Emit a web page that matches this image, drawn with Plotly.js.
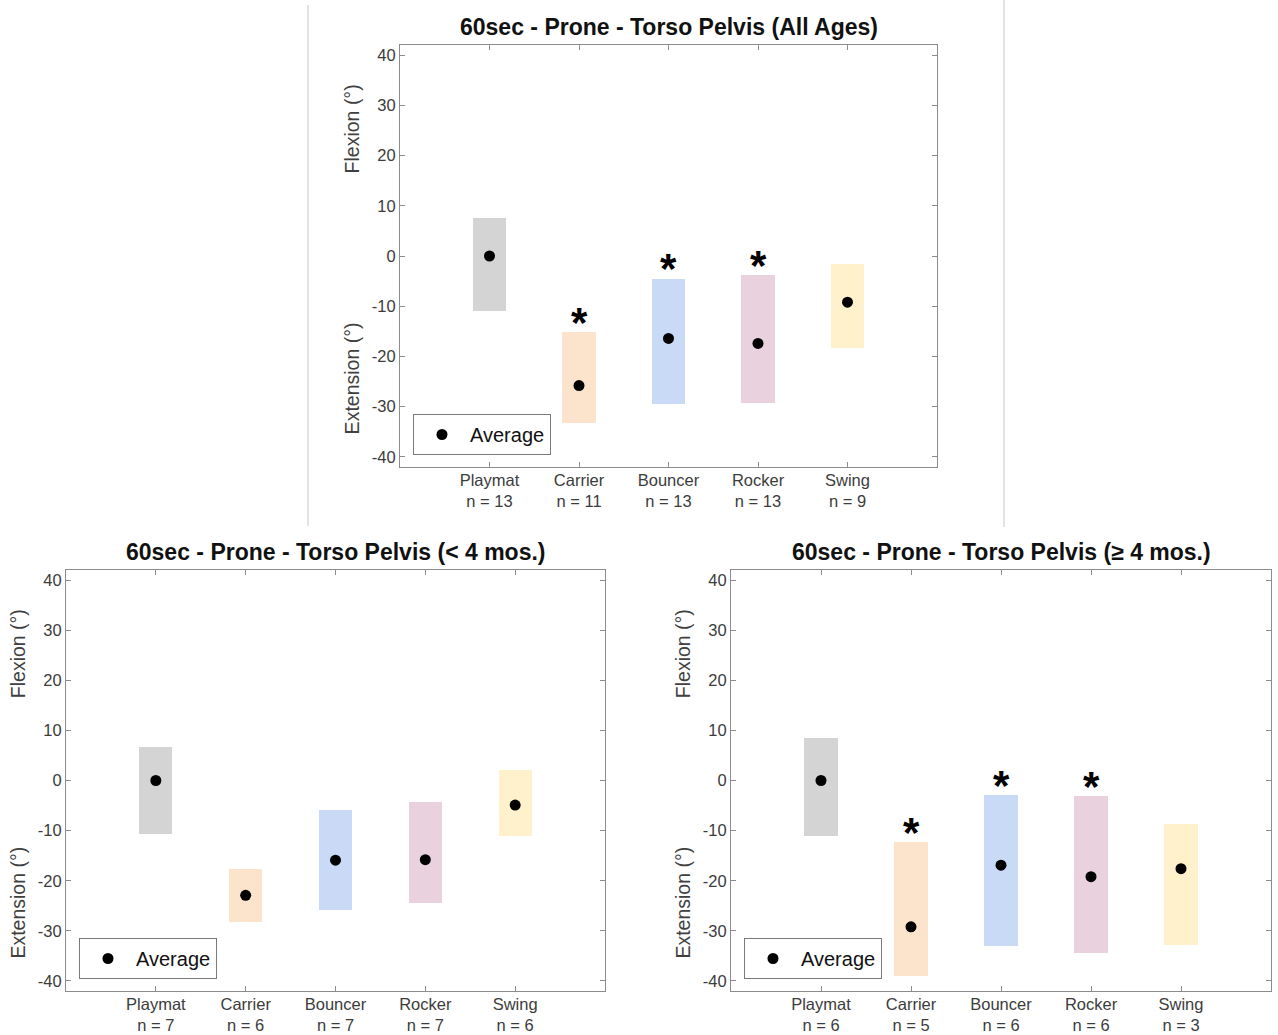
<!DOCTYPE html>
<html>
<head>
<meta charset="utf-8">
<script src="https://cdn.plot.ly/plotly-3.0.1.min.js"></script>
<style>html,body{margin:0;padding:0;background:#fff;}#chart{width:1278px;height:1035px;}</style>
</head>
<body>
<div id="chart"></div>
<script>
// ---- data ----
const categories = ["Playmat", "Carrier", "Bouncer", "Rocker", "Swing"];
const barColors = ["#d4d4d4", "#fbe4cb", "#c9daf6", "#e9d1dd", "#fef1cb"];

const titleAll = "60sec - Prone - Torso Pelvis (All Ages)";
const nAll = [13, 11, 13, 13, 9];
const topAll = [7.5, -15.2, -4.5, -3.8, -1.5];
const bottomAll = [-10.9, -33.3, -29.4, -29.2, -18.4];
const meanAll = [0, -25.8, -16.4, -17.4, -9.2];
const sigAll = [false, true, true, true, false];

const titleYoung = "60sec - Prone - Torso Pelvis (< 4 mos.)";
const nYoung = [7, 6, 7, 7, 6];
const topYoung = [6.6, -17.7, -5.9, -4.2, 2.1];
const bottomYoung = [-10.6, -28.2, -25.9, -24.4, -11.0];
const meanYoung = [0, -22.9, -15.9, -15.8, -4.9];
const sigYoung = [false, false, false, false, false];

const titleOld = "60sec - Prone - Torso Pelvis (\u2265 4 mos.)";
const nOld = [6, 5, 6, 6, 3];
const topOld = [8.5, -12.3, -2.9, -3.1, -8.6];
const bottomOld = [-11.0, -39.0, -33.0, -34.4, -32.9];
const meanOld = [0, -29.2, -16.9, -19.2, -17.6];
const sigOld = [false, true, true, true, false];

const yTicks = [-40, -30, -20, -10, 0, 10, 20, 30, 40];
const yTickText = ["-40", "-30", "-20", "-10", "0", "10", "20", "30", "40"];

// ---- build ----
const FONT = "Liberation Sans, Arial, sans-serif";
const panels = [
  {title: titleAll, n: nAll, top: topAll, bottom: bottomAll, mean: meanAll, sig: sigAll,
   xd: [400/1278, 937/1278], yd: [(1035-467)/1035, (1035-45)/1035], legend: "legend"},
  {title: titleYoung, n: nYoung, top: topYoung, bottom: bottomYoung, mean: meanYoung, sig: sigYoung,
   xd: [66/1278, 605/1278], yd: [(1035-991)/1035, (1035-570)/1035], legend: "legend2"},
  {title: titleOld, n: nOld, top: topOld, bottom: bottomOld, mean: meanOld, sig: sigOld,
   xd: [731/1278, 1271/1278], yd: [(1035-991)/1035, (1035-570)/1035], legend: "legend3"}
];

const xs = categories.map((c, i) => i + 1);
const traces = [];
const layout = {
  width: 1278, height: 1035,
  margin: {l: 0, r: 0, t: 0, b: 0},
  paper_bgcolor: "#fff", plot_bgcolor: "#fff",
  font: {family: FONT, color: "#404040"},
  annotations: [], shapes: [],
  bargap: 0
};

panels.forEach((p, k) => {
  const sfx = k === 0 ? "" : String(k + 1);
  const xa = "x" + sfx, ya = "y" + sfx;
  traces.push({
    type: "bar", x: xs, y: p.top.map((t, i) => t - p.bottom[i]), base: p.bottom,
    width: 0.37, marker: {color: barColors, line: {width: 0}},
    xaxis: xa, yaxis: ya, showlegend: false, hoverinfo: "skip"
  });
  traces.push({
    type: "scatter", mode: "markers", x: xs, y: p.mean, name: "Average",
    marker: {color: "#000", size: 11}, xaxis: xa, yaxis: ya,
    showlegend: true, legend: p.legend
  });
  // significance asterisks, anchored on the bar tops
  p.sig.forEach((s, i) => {
    if (!s) return;
    layout.annotations.push({
      xref: xa, yref: ya, x: xs[i], y: p.top[i], text: "<b>*</b>",
      showarrow: false, xanchor: "center", yanchor: "middle", yshift: 10,
      font: {size: 42, color: "#000", family: FONT}
    });
  });
  const axCommon = {
    showline: true, linecolor: "#8c8c8c", linewidth: 1, mirror: "ticks",
    ticks: "inside", ticklen: 5, tickcolor: "#8c8c8c", showgrid: false, zeroline: false,
    tickfont: {size: 16.5, color: "#3c3c3c", family: FONT}
  };
  layout["xaxis" + sfx] = Object.assign({}, axCommon, {
    domain: p.xd, anchor: ya, range: [0, 6], ticklabelstandoff: -2,
    tickvals: xs, ticktext: categories.map((c, i) => c + "<br>n = " + p.n[i])
  });
  layout["yaxis" + sfx] = Object.assign({}, axCommon, {
    domain: p.yd, anchor: xa, range: [-42, 42], tickvals: yTicks, ticktext: yTickText
  });
  layout[p.legend] = {
    x: p.xd[0] + 13/1278, y: p.yd[0] + 12/1035, xanchor: "left", yanchor: "bottom",
    xref: "paper", yref: "paper",
    bgcolor: "#fff", bordercolor: "#7a7a7a", borderwidth: 1,
    font: {size: 20, color: "#111", family: FONT}, itemwidth: 46
  };
  // title
  layout.annotations.push({
    xref: "paper", yref: "paper", x: (p.xd[0] + p.xd[1]) / 2, y: p.yd[1] + 3/1035,
    xanchor: "center", yanchor: "bottom", showarrow: false,
    text: "<b>" + p.title.replace("<", "&lt;") + "</b>",
    font: {size: 23, color: "#111", family: FONT}
  });
  // y axis titles
  const h = p.yd[1] - p.yd[0];
  layout.annotations.push({
    xref: "paper", yref: "paper", x: p.xd[0] - 48/1278, y: p.yd[0] + h * 0.80,
    xanchor: "center", yanchor: "middle", showarrow: false, textangle: -90,
    text: "Flexion (\u00b0)", font: {size: 19.5, color: "#404040", family: FONT}
  });
  layout.annotations.push({
    xref: "paper", yref: "paper", x: p.xd[0] - 48/1278, y: p.yd[0] + h * 0.21,
    xanchor: "center", yanchor: "middle", showarrow: false, textangle: -90,
    text: "Extension (\u00b0)", font: {size: 19.5, color: "#404040", family: FONT}
  });
});

// frame lines of the embedded top figure
layout.shapes.push({type: "line", xref: "paper", yref: "paper", x0: 308/1278, x1: 308/1278,
  y0: 1 - 526/1035, y1: 1 - 5/1035, line: {color: "#c8c8c8", width: 1}});
layout.shapes.push({type: "line", xref: "paper", yref: "paper", x0: 1004/1278, x1: 1004/1278,
  y0: 1 - 527/1035, y1: 1, line: {color: "#c8c8c8", width: 1}});

Plotly.newPlot("chart", traces, layout, {displayModeBar: false, staticPlot: true});
</script>
</body>
</html>
